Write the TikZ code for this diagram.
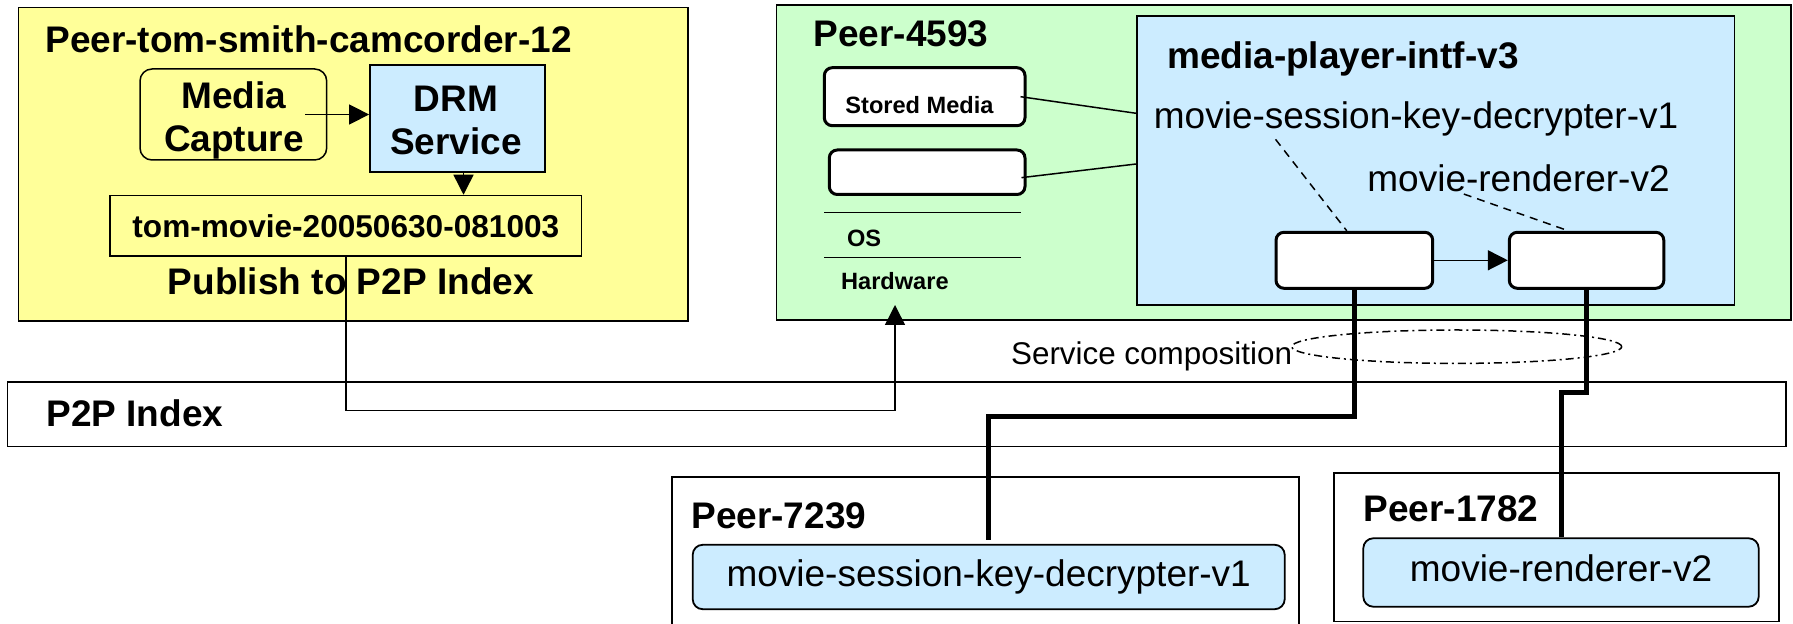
\documentclass[tikz,border=0pt]{standalone}
\usepackage{fontspec}
\setmainfont{Liberation Sans}
\usetikzlibrary{arrows.meta,shapes.geometric}

\definecolor{peeryellow}{HTML}{FFFF99}
\definecolor{peergreen}{HTML}{CCFFCC}
\definecolor{svcblue}{HTML}{CCECFF}

\newcommand{\bigbold}{\fontsize{18.5pt}{21.5pt}\selectfont\bfseries}
\newcommand{\bigplain}{\fontsize{18.5pt}{21.5pt}\selectfont}
\newcommand{\filebold}{\fontsize{15.8pt}{18pt}\selectfont\bfseries}
\newcommand{\midplain}{\fontsize{15.7pt}{18pt}\selectfont}
\newcommand{\smallbold}{\fontsize{11.8pt}{14pt}\selectfont\bfseries}

\begin{document}
\begin{tikzpicture}[x=0.5pt,y=-0.5pt,
  box/.style={draw, inner sep=0pt, line width=0.9pt},
  slot/.style={draw, fill=white, rounded corners=4pt, line width=1.5pt, inner sep=0pt},
  svc/.style={draw, fill=svcblue, rounded corners=5pt, line width=0.9pt, inner sep=0pt, font=\bigplain},
  arr/.style={-{Triangle[length=10pt,width=10pt]}, line width=0.75pt},
  link/.style={line width=2.5pt},
  lbl/.style={inner sep=0pt, anchor=base west},
  mid/.style={inner sep=0pt, anchor=base, font=\bigbold}]

\useasboundingbox (0,0) rectangle (1793,624);
\clip (0,0) rectangle (1793,624);

% camcorder peer
\node[box, fill=peeryellow, minimum width=334.75pt, minimum height=156.75pt] (camPeer) at (353.25,164.25) {};
\node[lbl, font=\bigbold] (camTitle) at (45,52.7) {Peer-tom-smith-camcorder-12};
\node[draw, rounded corners=6pt, line width=0.75pt, minimum width=93.35pt, minimum height=45.5pt] (mediaCap) at (233.35,114.5) {};
\node[mid] (mediaTop) at (234,109) {Media};
\node[mid] (mediaBot) at (234,152) {Capture};
\node[box, fill=svcblue, minimum width=87.5pt, minimum height=53.5pt] (drm) at (457.5,118.5) {};
\node[mid] (drmTop) at (456,111.7) {DRM};
\node[mid] (drmBot) at (456,155) {Service};
\node[box, line width=0.75pt, minimum width=235.85pt, minimum height=30.25pt, font=\filebold] (movieFile) at (345.85,225.75) {tom-movie-20050630-081003};
\node[lbl, font=\bigbold] (publish) at (167.4,294.5) {Publish to P2P Index};

\draw[arr] ([xshift=-11pt]mediaCap.east) -- (mediaCap.east -| drm.west);
\draw[arr] ([xshift=3pt]drm.south) -- ([xshift=3pt]drm.south |- movieFile.north);

% player peer
\node[box, fill=peergreen, minimum width=507.25pt, minimum height=157.5pt] (playerPeer) at (1283.75,162.5) {};
\node[lbl, font=\bigbold] (playerTitle) at (813.3,46.7) {Peer-4593};
\node[slot, minimum width=100.35pt, minimum height=29pt] (stored) at (924.65,96.7) {};
\node[lbl, font=\smallbold] (storedText) at (845,113.3) {Stored Media};
\node[slot, minimum width=97.85pt, minimum height=22.25pt] (blankApp) at (927.15,172.25) {};
\draw[line width=0.75pt] (824.3,212.7) -- (1020.7,212.7);
\draw[line width=0.75pt] (824.3,257.3) -- (1020.7,257.3);
\node[lbl, font=\smallbold] (osText) at (846.7,246.7) {OS};
\node[lbl, font=\smallbold] (hwText) at (840.7,290) {Hardware};

\node[box, fill=svcblue, minimum width=298.75pt, minimum height=144.5pt] (player) at (1435.75,160.5) {};
\node[lbl, font=\bigbold] (playerIntf) at (1166.7,68.3) {media-player-intf-v3};
\node[lbl, font=\bigplain] (decLabel) at (1153.5,128.3) {movie-session-key-decrypter-v1};
\node[lbl, font=\bigplain] (renLabel) at (1367,191.7) {movie-renderer-v2};
\node[slot, minimum width=78.35pt, minimum height=28pt] (slotA) at (1354.35,260.3) {};
\node[slot, minimum width=77.25pt, minimum height=28pt] (slotB) at (1586.55,260.3) {};

\draw[line width=0.75pt] ([xshift=-3pt]stored.east) -- ([yshift=23.6pt]player.west);
\draw[line width=0.75pt] ([xshift=-2.5pt,yshift=-2.7pt]blankApp.east) -- ([yshift=-1.75pt]player.west);
\draw[dash pattern=on 4pt off 3pt, line width=0.75pt] ([xshift=-70.25pt,yshift=-1.5pt]decLabel.south) -- ([xshift=-3.8pt]slotA.north);
\draw[dash pattern=on 4pt off 3pt, line width=0.75pt] ([xshift=-27.35pt,yshift=-0.8pt]renLabel.south) -- ([xshift=-9.1pt]slotB.north);
\draw[arr] (slotA.east) -- (slotB.west);

% index
\node[box, minimum width=889.1pt, minimum height=32.4pt] (p2p) at (896.6,414.1) {};
\node[lbl, font=\bigbold] (p2pText) at (46,426.7) {P2P Index};

\coordinate (indexIn) at (895,305);
\draw[arr] (movieFile.south) -- ++(0,154) -| (indexIn);

\node[draw, ellipse, dash pattern=on 4pt off 2pt on 1pt off 2pt, line width=0.75pt, inner sep=0pt,
  minimum width=165pt, minimum height=16.7pt] (compo) at (1456.7,346.7) {};
\node[lbl, font=\midplain] (compoText) at (1010.7,365) {Service composition};

% service peers
\node[box, minimum width=313.8pt, minimum height=91.65pt] (decPeer) at (985.5,568.35) {};
\node[lbl, font=\bigbold] (decPeerTitle) at (691,529) {Peer-7239};
\node[svc, minimum width=296pt, minimum height=32.2pt] (decSvc) at (988.7,577) {movie-session-key-decrypter-v1};
\node[box, minimum width=222.4pt, minimum height=74.4pt] (renPeer) at (1556.6,547.1) {};
\node[lbl, font=\bigbold] (renPeerTitle) at (1363.3,521.7) {Peer-1782};
\node[svc, minimum width=197.7pt, minimum height=34.2pt, text depth=4pt] (renSvc) at (1561,572.5) {movie-renderer-v2};

\draw[link] (slotA.south) -- ++(0,126.7) -| ([yshift=2pt]decSvc.north);
\draw[link] (slotB.south) -- ++(0,102.7) -| (renSvc.north);

\end{tikzpicture}
\end{document}
